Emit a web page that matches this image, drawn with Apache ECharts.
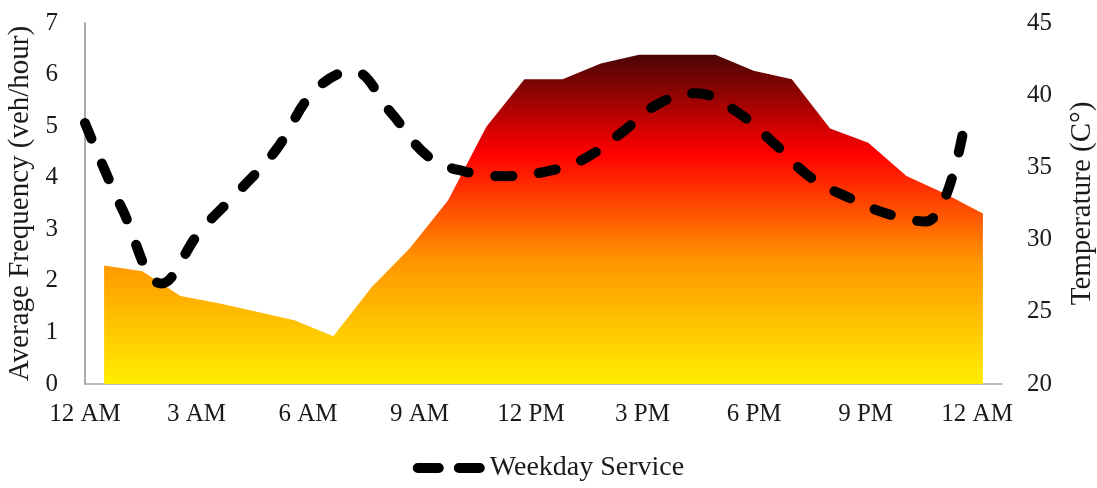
<!DOCTYPE html>
<html>
<head>
<meta charset="utf-8">
<script src="https://cdn.jsdelivr.net/npm/echarts@6/dist/echarts.min.js"></script>
<style>
  html, body { margin: 0; padding: 0; background: #fff; }
  #chart { width: 1097px; height: 488px; }
</style>
</head>
<body>
<div id="chart"></div>
<script>
// x tick labels, every 3 hours
var hourLabels = ['12 AM', '3 AM', '6 AM', '9 AM', '12 PM', '3 PM', '6 PM', '9 PM', '12 AM'];

// weekday service frequency (veh/hour), one value per hour
var freqHours = [0, 1, 2, 3, 4, 5, 6, 7, 8, 9, 10, 11, 12, 13, 14, 15, 16, 17, 18, 19, 20, 21, 22, 23];
var weekdayFreq = [5.06, 3.35, 1.95, 2.95, 3.72, 4.54, 5.68, 6.07, 5.27, 4.40, 4.11, 4.03,
  4.11, 4.34, 4.85, 5.43, 5.64, 5.31, 4.69, 4.00, 3.61, 3.30, 3.15, 4.96];

// temperature (C), mid-hour values
var tempHours = [0.5, 1.5, 2.5, 3.5, 4.5, 5.5, 6.5, 7.5, 8.5, 9.5, 10.5, 11.5,
  12.5, 13.5, 14.5, 15.5, 16.5, 17.5, 18.5, 19.5, 20.5, 21.5, 22.5, 23.5];
var temperature = [28.2, 27.8, 26.1, 25.6, 25.0, 24.4, 23.3, 26.7, 29.4, 32.7, 37.8, 41.1,
  41.1, 42.2, 42.8, 42.8, 42.8, 41.7, 41.1, 37.7, 36.7, 34.4, 33.2, 31.8];

var font = '"Liberation Serif", "DejaVu Serif", serif';
var axisGray = '#a6a6a6';
// two rounded dashes for the legend key
var dashIcon = 'path://M5,0H26A5,5 0 0 1 26,10H5A5,5 0 0 1 5,0Z' +
  'M46,0H67A5,5 0 0 1 67,10H46A5,5 0 0 1 46,0Z';

var freqData = freqHours.map(function (h, i) { return [h, weekdayFreq[i]]; });
var tempData = tempHours.map(function (h, i) { return [h, temperature[i]]; });

var chart = echarts.init(document.getElementById('chart'), null, { renderer: 'canvas' });

chart.setOption({
  animation: false,
  backgroundColor: '#fff',
  textStyle: { fontFamily: font, color: '#1a1a1a' },
  grid: { left: 85, right: 95, top: 23, bottom: 104, outerBoundsMode: 'none', containLabel: false },
  legend: {
    data: [{ name: 'Weekday Service', icon: dashIcon, itemStyle: { color: '#000' } }],
    bottom: 1,
    left: 'center',
    itemWidth: 72,
    itemHeight: 11,
    itemGap: 6,
    textStyle: { fontFamily: font, fontSize: 28, color: '#1a1a1a' }
  },
  xAxis: [{
    // data axis
    type: 'value',
    min: 0,
    max: 24,
    axisLine: { show: true, lineStyle: { color: axisGray, width: 1.5 } },
    axisTick: { show: false },
    axisLabel: { show: false },
    splitLine: { show: false }
  }, {
    // label axis
    type: 'value',
    position: 'bottom',
    min: 0,
    max: 24.67,
    interval: 3,
    axisLine: { show: false },
    axisTick: { show: false },
    splitLine: { show: false },
    axisLabel: {
      margin: 18,
      fontSize: 25,
      fontFamily: font,
      color: '#1a1a1a',
      showMaxLabel: false,
      formatter: function (v) {
        if (Math.abs(v % 3) > 1e-6) return '';
        return hourLabels[Math.round(v / 3)] || '';
      }
    }
  }],
  yAxis: [{
    type: 'value',
    min: 0,
    max: 7,
    interval: 1,
    name: 'Average Frequency (veh/hour)',
    nameLocation: 'middle',
    nameGap: 38,
    nameTextStyle: { fontFamily: font, fontSize: 29, color: '#1a1a1a' },
    axisLine: { show: true, lineStyle: { color: axisGray, width: 1.5 } },
    axisTick: { show: false },
    splitLine: { show: false },
    axisLabel: { margin: 27, fontSize: 25, fontFamily: font, color: '#1a1a1a' }
  }, {
    type: 'value',
    min: 20,
    max: 45,
    interval: 5,
    position: 'right',
    name: 'Temperature (C°)',
    nameLocation: 'middle',
    nameGap: 66,
    nameRotate: 90,
    nameTextStyle: { fontFamily: font, fontSize: 29, color: '#1a1a1a' },
    axisLine: { show: true, lineStyle: { color: axisGray, width: 1.5 } },
    axisTick: { show: false },
    splitLine: { show: false },
    axisLabel: { margin: 25, fontSize: 25, fontFamily: font, color: '#1a1a1a' }
  }],
  series: [{
    name: 'Temperature',
    type: 'line',
    xAxisIndex: 0,
    yAxisIndex: 1,
    data: tempData,
    symbol: 'none',
    lineStyle: { width: 0 },
    z: 1,
    areaStyle: {
      origin: 'start',
      opacity: 1,
      color: new echarts.graphic.LinearGradient(0, 0, 0, 1, [
        { offset: 0, color: '#4a0505' },
        { offset: 0.3, color: '#ff0000' },
        { offset: 0.62, color: '#ff9400' },
        { offset: 1, color: '#ffee00' }
      ])
    }
  }, {
    name: 'Weekday Service',
    type: 'line',
    xAxisIndex: 0,
    yAxisIndex: 0,
    data: freqData,
    symbol: 'none',
    smooth: 0.4,
    z: 3,
    itemStyle: { color: '#000' },
    lineStyle: { color: '#000', width: 10, type: [17, 27], cap: 'round', join: 'round' }
  }]
});
</script>
</body>
</html>
